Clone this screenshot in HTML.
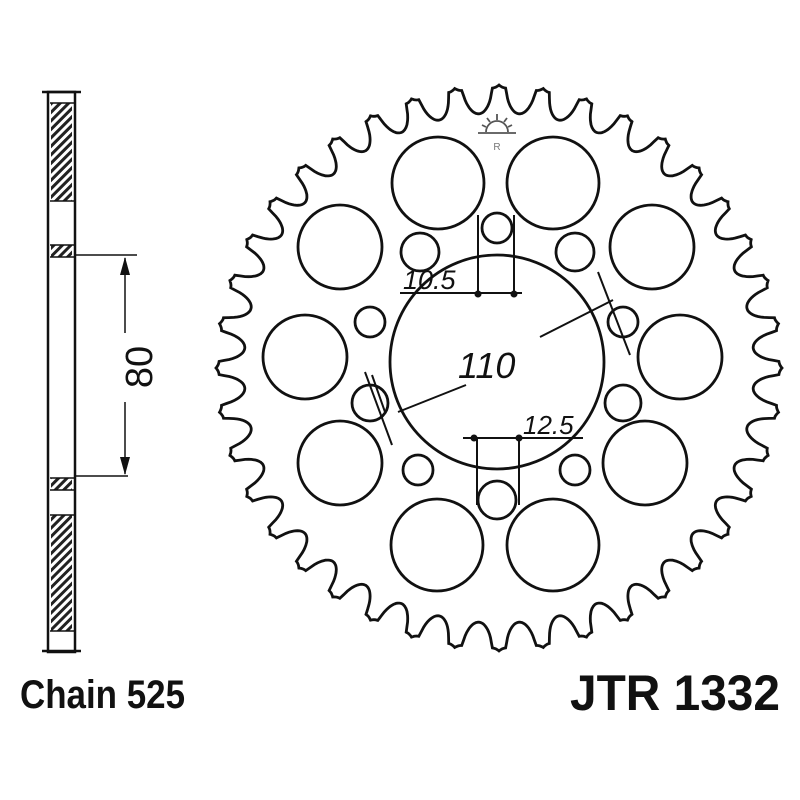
<!DOCTYPE html>
<html><head><meta charset="utf-8"><style>
html,body{margin:0;padding:0;background:#fff;width:800px;height:800px;overflow:hidden}
svg{display:block}
</style></head><body>
<svg id="s" width="800" height="800" viewBox="0 0 800 800" xmlns="http://www.w3.org/2000/svg">
<defs>
<pattern id="h" width="6" height="6" patternUnits="userSpaceOnUse" patternTransform="rotate(45)">
<rect width="6" height="6" fill="#fff"/><rect width="3" height="6" fill="#222"/>
</pattern>
</defs>
<g fill="none" stroke="#111" stroke-width="2.8">
<path id="teeth" d=""/>
<circle cx="438" cy="183" r="46"/>
<circle cx="553" cy="183" r="46"/>
<circle cx="340" cy="247" r="42"/>
<circle cx="652" cy="247" r="42"/>
<circle cx="305" cy="357" r="42"/>
<circle cx="680" cy="357" r="42"/>
<circle cx="340" cy="463" r="42"/>
<circle cx="645" cy="463" r="42"/>
<circle cx="437" cy="545" r="46"/>
<circle cx="553" cy="545" r="46"/>
<circle cx="497" cy="228" r="15"/>
<circle cx="575" cy="252" r="19"/>
<circle cx="623" cy="322" r="15"/>
<circle cx="623" cy="403" r="18"/>
<circle cx="575" cy="470" r="15"/>
<circle cx="497" cy="500" r="19"/>
<circle cx="418" cy="470" r="15"/>
<circle cx="370" cy="403" r="18"/>
<circle cx="370" cy="322" r="15"/>
<circle cx="420" cy="252" r="19"/>
<circle cx="497" cy="362" r="107"/>
</g>
<g stroke="#111" stroke-width="2" fill="none">
<line x1="478" y1="215" x2="478" y2="295"/>
<line x1="514" y1="215" x2="514" y2="295"/>
<line x1="400" y1="293" x2="522" y2="293"/>
<line x1="477" y1="438" x2="477" y2="505"/>
<line x1="519" y1="438" x2="519" y2="505"/>
<line x1="463" y1="438" x2="583" y2="438"/>
<line x1="398" y1="412" x2="466" y2="385"/>
<line x1="540" y1="337" x2="613" y2="300"/>
<line x1="598" y1="272" x2="630" y2="355"/>
<line x1="365" y1="372" x2="392" y2="445"/>
<line x1="372" y1="375" x2="385" y2="412"/>
</g>
<g fill="#111">
<circle cx="478" cy="294" r="3.5"/><circle cx="514" cy="294" r="3.5"/>
<circle cx="474" cy="438" r="3.5"/><circle cx="519" cy="438" r="3.5"/>
</g>
<g font-family="Liberation Sans, sans-serif" font-style="italic" fill="#111">
<text x="403" y="289" font-size="27">10.5</text>
<text x="458" y="378" font-size="36">110</text>
<text x="523" y="434" font-size="26">12.5</text>
</g>
<g stroke="#555" stroke-width="1.8" fill="none">
<line x1="478" y1="133" x2="516" y2="133"/>
<path d="M486 132 A11 11 0 0 1 508 132"/>
<line x1="497" y1="114" x2="497" y2="120"/><line x1="487" y1="118" x2="490" y2="122"/><line x1="507" y1="118" x2="504" y2="122"/>
<line x1="482" y1="125" x2="486" y2="127"/><line x1="512" y1="125" x2="508" y2="127"/>
</g>
<text x="497" y="150" font-family="Liberation Sans, sans-serif" font-size="10" fill="#777" text-anchor="middle">R</text>
<g stroke="#111" stroke-width="2.5" fill="none">
<rect x="48" y="92" width="27" height="560" fill="#fff"/>
<line x1="42" y1="92" x2="81" y2="92"/>
<line x1="42" y1="651" x2="81" y2="651"/>
</g>
<rect x="51" y="103" width="21" height="98" fill="url(#h)"/>
<rect x="51" y="245" width="21" height="12" fill="url(#h)"/>
<rect x="51" y="478" width="21" height="12" fill="url(#h)"/>
<rect x="51" y="515" width="21" height="116" fill="url(#h)"/>
<g stroke="#111" stroke-width="1.5">
<line x1="50" y1="103" x2="74" y2="103"/><line x1="50" y1="201" x2="74" y2="201"/>
<line x1="50" y1="245" x2="74" y2="245"/><line x1="50" y1="257" x2="74" y2="257"/>
<line x1="50" y1="478" x2="74" y2="478"/><line x1="50" y1="490" x2="74" y2="490"/>
<line x1="50" y1="515" x2="74" y2="515"/><line x1="50" y1="631" x2="74" y2="631"/>
<line x1="75" y1="255" x2="137" y2="255"/>
<line x1="75" y1="476" x2="128" y2="476"/>
<line x1="125" y1="258" x2="125" y2="333"/>
<line x1="125" y1="402" x2="125" y2="474"/>
</g>
<path d="M125 257 L120 275 L130 275 Z M125 475 L120 457 L130 457 Z" fill="#111"/>
<text transform="translate(140,367) rotate(-90)" font-family="Liberation Sans, sans-serif" font-size="38" fill="#111" text-anchor="middle" dominant-baseline="central">80</text>
<text x="20" y="708" font-family="Liberation Sans, sans-serif" font-weight="bold" font-size="40" fill="#111" textLength="165" lengthAdjust="spacingAndGlyphs">Chain 525</text>
<text x="570" y="710" font-family="Liberation Sans, sans-serif" font-weight="bold" font-size="50" fill="#111" textLength="210" lengthAdjust="spacingAndGlyphs">JTR 1332</text>
</svg>
<script>
(function(){
var cx=499,cy=368,Rt=283,Rr=255,N=40,pts=[];
var M=N*40;
for(var i=0;i<=M;i++){
 var t=i/M*2*Math.PI, p=(i%40)/40;
 var d=Math.abs(p-0.5);
 var w=0.34, r;
 if(d<w){ r=Rt-(Rt-Rr)*Math.sqrt(1-(d/w)*(d/w)); }
 else { var e=(d-w)/(0.5-w); r=Rt-3*(1-e*e); }
 var a=t-Math.PI/2;
 pts.push((cx+r*Math.cos(a)).toFixed(1)+" "+(cy+r*Math.sin(a)).toFixed(1));
}
document.getElementById("teeth").setAttribute("d","M"+pts.join(" L")+"Z");
})();
</script>
</body></html>
